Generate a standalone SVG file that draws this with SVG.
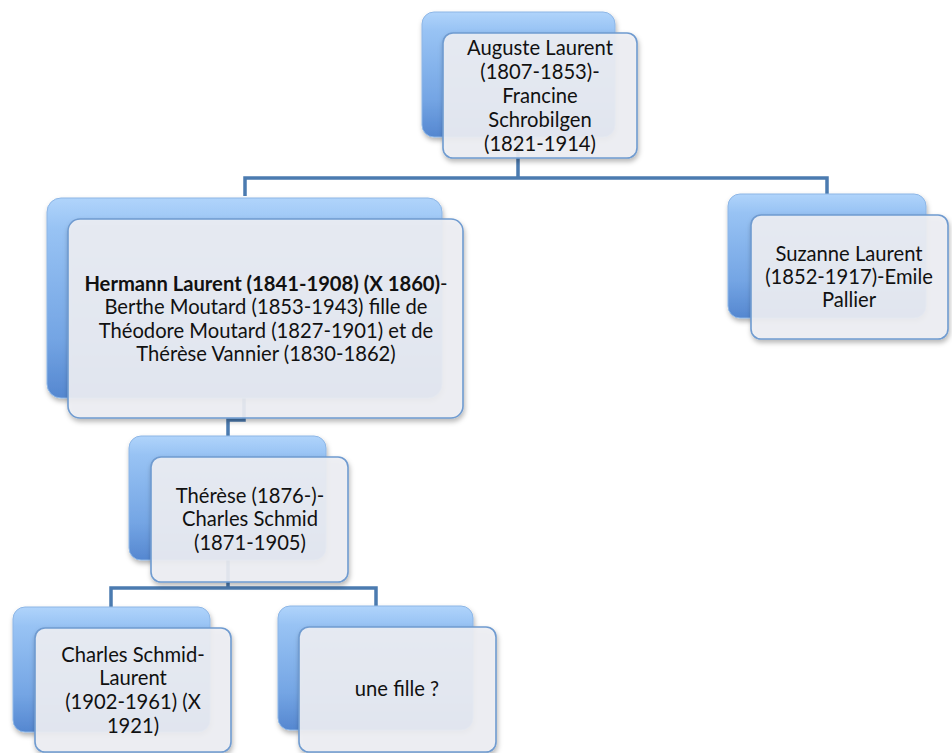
<svg xmlns="http://www.w3.org/2000/svg" width="952" height="753" viewBox="0 0 952 753">
<style>
.back{fill:url(#bg);stroke:#8db6e6;stroke-width:1}
.front{fill:#eef0f4;fill-opacity:0.9;stroke:#6f9bd0;stroke-width:1.6}
.t{font-family:Lato,"Open Sans","Liberation Sans",sans-serif;font-size:20.2px;fill:#111;text-anchor:middle}
.b{font-weight:bold}
.conn{fill:none;stroke:#4b7bb0;stroke-width:3.5}
</style>
<defs>
<linearGradient id="bg" x1="0" y1="0" x2="0" y2="1">
<stop offset="0" stop-color="#b0d4fb"/>
<stop offset="0.15" stop-color="#98c3f4"/>
<stop offset="0.7" stop-color="#74a5e4"/>
<stop offset="1" stop-color="#5587d0"/>
</linearGradient>
<filter id="sh" x="-10%" y="-10%" width="125%" height="130%">
<feDropShadow dx="1" dy="3" stdDeviation="2.5" flood-color="#000" flood-opacity="0.3"/>
</filter>
</defs>
<rect width="952" height="753" fill="#fff"/>
<g id="connectors">
<path class="conn" d="M518 137 V178 M245 196 V178 H827 V196"/>
<path class="conn" d="M244 398 V420 H228 V436"/>
<path class="conn" d="M228 560 V588 M111 607 V588 H376 V606"/>
</g>
<g id="n-auguste">
<rect class="back" x="422" y="12" width="193" height="125" rx="12" filter="url(#sh)"/>
<rect class="front" x="443" y="33" width="194" height="125" rx="10" filter="url(#sh)"/>
<text class="t"><tspan x="540" y="55">Auguste Laurent</tspan><tspan x="540" y="79">(1807-1853)-</tspan><tspan x="540" y="103">Francine</tspan><tspan x="540" y="127">Schrobilgen</tspan><tspan x="540" y="151">(1821-1914)</tspan></text>
</g>
<g id="n-hermann">
<rect class="back" x="47" y="198" width="395" height="200" rx="14" filter="url(#sh)"/>
<rect class="front" x="68" y="219" width="395" height="199" rx="12" filter="url(#sh)"/>
<text class="t"><tspan x="266" y="291"><tspan class="b">Hermann Laurent (1841-1908) (X 1860)</tspan>-</tspan><tspan x="266" y="314">Berthe Moutard (1853-1943) fille de</tspan><tspan x="266" y="338">Théodore Moutard (1827-1901) et de</tspan><tspan x="266" y="361">Thérèse Vannier (1830-1862)</tspan></text>
</g>
<g id="n-suzanne">
<rect class="back" x="728" y="194" width="198" height="124" rx="12" filter="url(#sh)"/>
<rect class="front" x="751" y="215" width="197" height="124" rx="10" filter="url(#sh)"/>
<text class="t"><tspan x="849" y="261">Suzanne Laurent</tspan><tspan x="849" y="284">(1852-1917)-Emile</tspan><tspan x="849" y="307">Pallier</tspan></text>
</g>
<g id="n-therese">
<rect class="back" x="129" y="436" width="197" height="124" rx="12" filter="url(#sh)"/>
<rect class="front" x="151" y="457" width="197" height="125" rx="10" filter="url(#sh)"/>
<text class="t"><tspan x="250" y="503">Thérèse (1876-)-</tspan><tspan x="250" y="526">Charles Schmid</tspan><tspan x="250" y="550">(1871-1905)</tspan></text>
</g>
<g id="n-charles">
<rect class="back" x="13" y="607" width="197" height="125" rx="12" filter="url(#sh)"/>
<rect class="front" x="35" y="628" width="196" height="124" rx="10" filter="url(#sh)"/>
<text class="t"><tspan x="133" y="662">Charles Schmid-</tspan><tspan x="133" y="685">Laurent</tspan><tspan x="133" y="709">(1902-1961) (X</tspan><tspan x="133" y="733">1921)</tspan></text>
</g>
<g id="n-fille">
<rect class="back" x="278" y="606" width="195" height="124" rx="12" filter="url(#sh)"/>
<rect class="front" x="299" y="627" width="197" height="125" rx="10" filter="url(#sh)"/>
<text class="t"><tspan x="397" y="696">une fille ?</tspan></text>
</g>
</svg>
